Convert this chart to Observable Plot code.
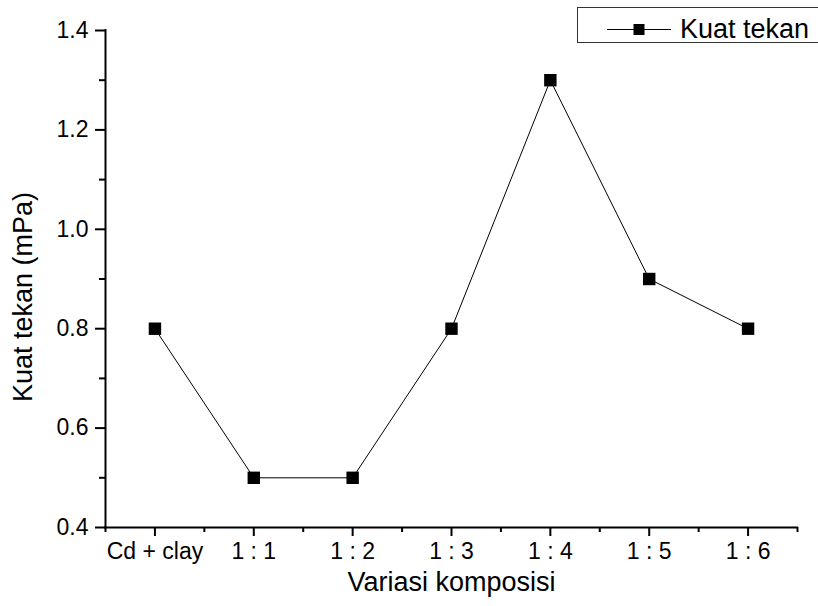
<!DOCTYPE html>
<html>
<head>
<meta charset="utf-8">
<script src="https://cdn.jsdelivr.net/npm/d3@7"></script>
<script src="https://cdn.jsdelivr.net/npm/@observablehq/plot@0.6"></script>
<style>
  html, body { margin: 0; padding: 0; background: white; overflow: hidden; }
  #wrap { position: relative; width: 818px; height: 606px; overflow: hidden; }
  #legend { position: absolute; left: 577px; top: 7px; width: 250px; height: 36px;
            border: 1px solid #333; background: white; box-sizing: border-box; }
</style>
</head>
<body>
<div id="wrap"></div>
<script>
const categories = ["Cd + clay", "1 : 1", "1 : 2", "1 : 3", "1 : 4", "1 : 5", "1 : 6"];
const kuatTekan = [0.8, 0.5, 0.5, 0.8, 1.3, 0.9, 0.8];
const yMajorTicks = [0.4, 0.6, 0.8, 1.0, 1.2, 1.4];
const yMinorTicks = [0.5, 0.7, 0.9, 1.1, 1.3];
const xTitle = "Variasi komposisi";
const yTitle = "Kuat tekan (mPa)";
const seriesName = "Kuat tekan";

const data = categories.map((c, i) => ({i, c, v: kuatTekan[i]}));
const xMajor = categories.map((c, i) => i);
const xMinor = d3.range(-0.5, categories.length, 1);

const font = "'Liberation Sans', Arial, sans-serif";

const chart = Plot.plot({
  width: 818,
  height: 606,
  marginLeft: 105,
  marginRight: 21,
  marginTop: 30,
  marginBottom: 79,
  style: {fontFamily: font, color: "black", background: "white", overflow: "visible"},
  x: {type: "linear", domain: [-0.5, categories.length - 0.5], axis: null},
  y: {domain: [0.4, 1.4], axis: null},
  marks: [
    Plot.axisY(yMajorTicks, {tickSize: 10, tickPadding: 7, tickFormat: d => d.toFixed(1),
      fontSize: 23, strokeWidth: 2, label: null}),
    Plot.axisY(yMinorTicks, {tickSize: 6, tickFormat: () => "", strokeWidth: 2, label: null}),
    Plot.axisX(xMajor, {tickSize: 9, tickPadding: 6, tickFormat: i => categories[i],
      fontSize: 23, strokeWidth: 2, label: null}),
    Plot.axisX(xMinor, {tickSize: 5, tickFormat: () => "", strokeWidth: 2, label: null}),
    Plot.ruleX([-0.5], {stroke: "black", strokeWidth: 2, strokeLinecap: "square"}),
    Plot.ruleY([0.4], {stroke: "black", strokeWidth: 2, strokeLinecap: "square"}),
    Plot.line(data, {x: "i", y: "v", stroke: "black", strokeWidth: 1}),
    Plot.dot(data, {x: "i", y: "v", symbol: "square", r: 7, fill: "black", stroke: "none"}),
    Plot.text([xTitle], {frameAnchor: "bottom", textAnchor: "middle", dy: 63, fontSize: 27, fill: "black"}),
    Plot.text([yTitle], {frameAnchor: "left", textAnchor: "middle", rotate: -90, dx: -82, dy: 18, fontSize: 27, fill: "black"})
  ]
});

const wrap = document.getElementById("wrap");
wrap.appendChild(chart);

const legend = document.createElement("div");
legend.id = "legend";
legend.innerHTML = `<svg width="250" height="36" style="display:block">
  <line x1="29" x2="93" y1="21.5" y2="21.5" stroke="black" stroke-width="1"/>
  <rect x="55.5" y="16" width="11" height="11" fill="black"/>
  <text x="102" y="30" font-family="${font}" font-size="27" fill="black">${seriesName}</text>
</svg>`;
wrap.appendChild(legend);
</script>
</body>
</html>
